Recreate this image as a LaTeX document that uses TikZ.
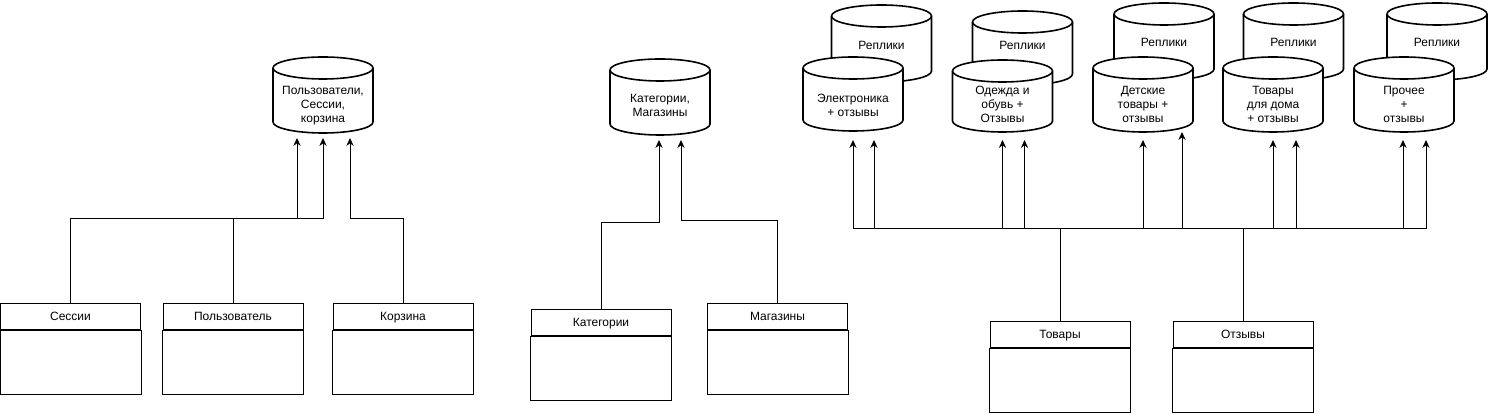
\documentclass[tikz,border=0pt]{standalone}
\usepackage{fontspec}
\setmainfont{Liberation Sans}
\usetikzlibrary{calc,arrows.meta}
\pgfdeclarelayer{bg}
\pgfsetlayers{bg,main}
\newcommand\drawcyl[3]{%
  \draw[cylline] ($(#1.center)+(-50,#2-11)$) -- ($(#1.center)+(-50,11-#3)$)
    arc[start angle=180,end angle=360,x radius=37.5pt,y radius=8.25pt]
    -- ($(#1.center)+(50,#2-11)$)
    arc[start angle=0,end angle=180,x radius=37.5pt,y radius=8.25pt] -- cycle;
  \draw[cylline] ($(#1.center)+(-50,#2-11)$)
    arc[start angle=180,end angle=360,x radius=37.5pt,y radius=8.25pt];
}
\tikzset{
  txt/.style={font=\fontsize{9}{10.5}\selectfont, align=center, inner sep=0pt},
  cylline/.style={line width=1.2pt, fill=white, line join=round},
  hdr/.style={draw, line width=0.75pt, minimum width=105pt, minimum height=19.5pt,
    inner sep=0pt, text height=6.6pt, text depth=1.9pt, font=\fontsize{9}{10.5}\selectfont},
  conn/.style={line width=0.75pt},
  arr/.style={conn, -{Stealth[length=6pt,width=5.5pt,inset=2pt]}},
}
\begin{document}
\begin{tikzpicture}[x=0.75pt,y=0.75pt]
\useasboundingbox (0,0) rectangle (1489,414);

% class boxes (headers)
\node[hdr] (sess) at (70.5,97) {Сессии};
\node[hdr] (user) at (233,97) {Пользователь};
\node[hdr] (cart) at (403,97) {Корзина};
\node[hdr] (cat) at (601,91) {Категории};
\node[hdr] (shop) at (777.5,97) {Магазины};
\node[hdr] (tov) at (1060,79) {Товары};
\node[hdr] (otz) at (1243,79) {Отзывы};
\foreach \b in {sess,user,cart,cat,shop,tov,otz}{
  \draw[conn] (\b.south west) rectangle ($(\b.south east)+(0,-64)$);
}

% database texts
\node[txt] (db1) at (323,308) {Пользователи,\\Сессии,\\корзина};
\node[txt] (db2) at (660,309) {Категории,\\Магазины};
\node[txt] (r1) at (881.5,369) {Реплики};
\node[txt] (r2) at (1022.5,369) {Реплики};
\node[txt] (r3) at (1164,372) {Реплики};
\node[txt] (r4) at (1293.5,372) {Реплики};
\node[txt] (r5) at (1437,372) {Реплики};
\node[txt] (f1) at (853,309) {Электроника\\+ отзывы};
\node[txt] (f2) at (1002.5,310) {Одежда и\\обувь +\\Отзывы};
\node[txt] (f3) at (1143,310) {Детские\\товары +\\отзывы};
\node[txt] (f4) at (1273,310) {Товары\\для дома\\+ отзывы};
\node[txt] (f5) at (1404,310) {Прочее\\+\\отзывы};

\begin{pgfonlayer}{bg}
  \drawcyl{db1}{49}{27}
  \drawcyl{db2}{46}{30}
  \drawcyl{r1}{40}{37}
  \drawcyl{r2}{34}{40}
  \drawcyl{r3}{39}{38}
  \drawcyl{r4}{39}{38}
  \drawcyl{r5}{39}{38}
  \drawcyl{f1}{48}{26}
  \drawcyl{f2}{44}{28}
  \drawcyl{f3}{47}{28}
  \drawcyl{f4}{47}{28}
  \drawcyl{f5}{47}{28}
\end{pgfonlayer}

% left group
\draw[arr] (sess.north) |- ($(db1.center)+(-26,-113)$) -- ($(db1.center)+(-26,-32)$);
\draw[arr] (user.north) |- ($(db1.center)+(0,-113)$) -- ($(db1.center)+(0,-32)$);
\draw[arr] (cart.north) |- ($(db1.center)+(27,-113)$) -- ($(db1.center)+(27,-32)$);

% middle group
\draw[arr] (cat.north) |- ($(db2.center)+(-1,-118)$) -- ($(db2.center)+(-1,-35)$);
\draw[arr] (shop.north) |- ($(db2.center)+(21,-116)$) -- ($(db2.center)+(21,-35)$);

% right group
\draw[arr] (tov.north) |- ($(f1.center)+(0,-124)$) -- ($(f1.center)+(0,-35)$);
\draw[arr] (tov.north) |- ($(f2.center)+(0,-125)$) -- ($(f2.center)+(0,-36)$);
\draw[arr] (tov.north) |- ($(f3.center)+(0,-125)$) -- ($(f3.center)+(0,-36)$);
\draw[arr] (tov.north) |- ($(f4.center)+(0,-125)$) -- ($(f4.center)+(0,-36)$);
\draw[arr] (tov.north) |- ($(f5.center)+(-1,-125)$) -- ($(f5.center)+(-1,-36)$);
\draw[arr] (otz.north) |- ($(f1.center)+(21,-124)$) -- ($(f1.center)+(21,-35)$);
\draw[arr] (otz.north) |- ($(f2.center)+(22,-125)$) -- ($(f2.center)+(22,-36)$);
\draw[arr] (otz.north) |- ($(f3.center)+(39,-125)$) -- ($(f3.center)+(39,-28)$);
\draw[arr] (otz.north) |- ($(f4.center)+(23,-125)$) -- ($(f4.center)+(23,-36)$);
\draw[arr] (otz.north) |- ($(f5.center)+(22,-125)$) -- ($(f5.center)+(22,-36)$);
\end{tikzpicture}
\end{document}
